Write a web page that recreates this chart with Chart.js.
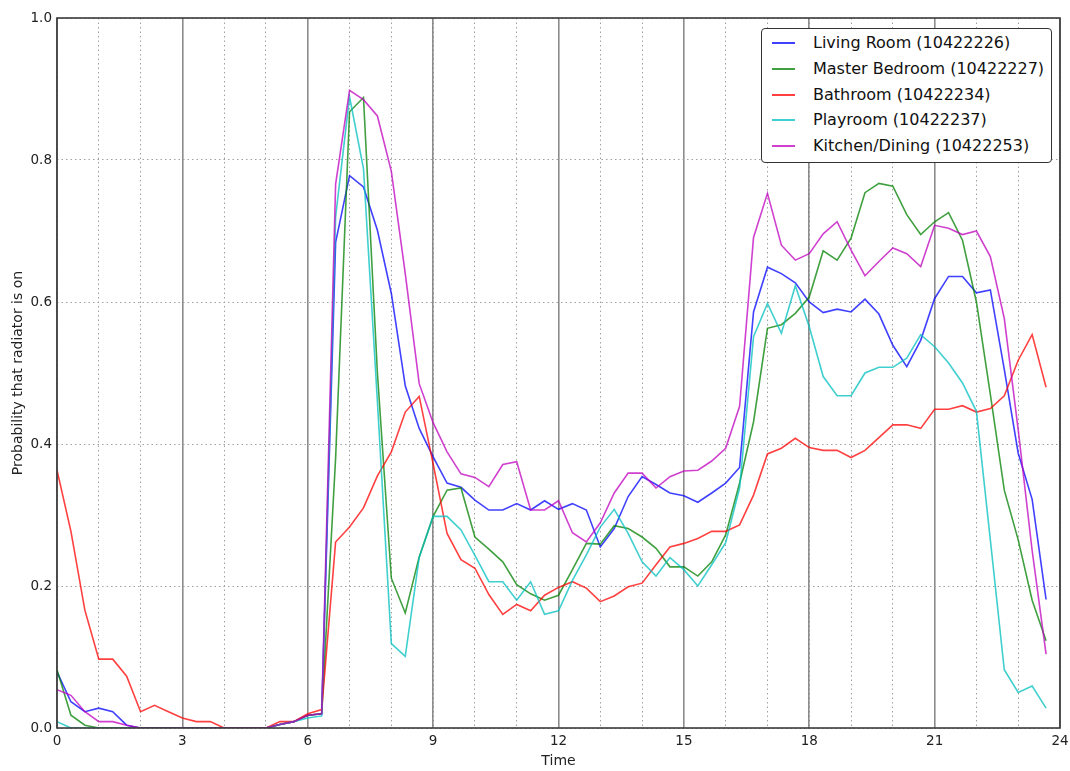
<!DOCTYPE html>
<html>
<head>
<meta charset="utf-8">
<script src="https://cdn.jsdelivr.net/npm/chart.js@4"></script>
<style>
  html, body { margin:0; padding:0; background:#fff; }
  #wrap { position:relative; width:1070px; height:771px; }
  #legend {
    position:absolute; left:761px; top:28px; width:291px; height:135px;
    box-sizing:border-box; border:1.5px solid #333; border-radius:4px; background:#fff;
    padding-top:1px; font-family:'DejaVu Sans', sans-serif; font-size:16px; color:#111;
  }
  #legend .row { position:relative; height:25.8px; line-height:25.8px; }
  #legend .swatch { position:absolute; left:10px; top:12px; width:23px; height:2px; }
  #legend .label { position:absolute; left:51px; top:0; white-space:nowrap; }
</style>
</head>
<body>
<div id="wrap">
  <canvas id="chart" width="1070" height="771"></canvas>
  <div id="legend"></div>
</div>
<script>
'use strict';

// sampled every 20 minutes, 0:00 .. 23:40
const stepHours = 1 / 3;

const seriesNames = [
  'Living Room (10422226)',
  'Master Bedroom (10422227)',
  'Bathroom (10422234)',
  'Playroom (10422237)',
  'Kitchen/Dining (10422253)',
];
const seriesColors = [
  'rgba(0,0,255,0.75)',
  'rgba(0,128,0,0.75)',
  'rgba(255,0,0,0.75)',
  'rgba(0,191,191,0.75)',
  'rgba(191,0,191,0.75)',
];

const livingRoom = [
  0.079, 0.037, 0.023, 0.028, 0.023, 0.004, 0, 0, 0, 0, 0, 0,
  0, 0, 0, 0, 0.005, 0.009, 0.018, 0.020, 0.684, 0.778, 0.762, 0.701,
  0.612, 0.482, 0.422, 0.382, 0.345, 0.339, 0.321, 0.307, 0.307, 0.316, 0.307, 0.320,
  0.308, 0.316, 0.307, 0.255, 0.281, 0.326, 0.354, 0.343, 0.331, 0.327, 0.318, 0.331,
  0.345, 0.367, 0.586, 0.649, 0.640, 0.627, 0.600, 0.585, 0.590, 0.586, 0.604, 0.583,
  0.539, 0.509, 0.546, 0.605, 0.636, 0.636, 0.613, 0.617, 0.505, 0.387, 0.322, 0.181,
];
const masterBedroom = [
  0.082, 0.018, 0.004, 0, 0, 0, 0, 0, 0, 0, 0, 0,
  0, 0, 0, 0, 0.005, 0.009, 0.018, 0.020, 0.380, 0.868, 0.888, 0.500,
  0.211, 0.162, 0.241, 0.298, 0.335, 0.338, 0.269, 0.252, 0.234, 0.202, 0.189, 0.180,
  0.187, 0.223, 0.260, 0.259, 0.285, 0.281, 0.269, 0.253, 0.227, 0.227, 0.214, 0.234,
  0.272, 0.345, 0.431, 0.563, 0.568, 0.584, 0.607, 0.672, 0.659, 0.690, 0.754, 0.767,
  0.763, 0.723, 0.695, 0.713, 0.726, 0.687, 0.600, 0.470, 0.335, 0.265, 0.180, 0.123,
];
const bathroom = [
  0.363, 0.277, 0.166, 0.097, 0.097, 0.073, 0.023, 0.032, 0.023, 0.014, 0.009, 0.009,
  0, 0, 0, 0, 0.009, 0.009, 0.020, 0.026, 0.262, 0.283, 0.310, 0.355,
  0.389, 0.445, 0.467, 0.372, 0.274, 0.237, 0.225, 0.188, 0.160, 0.174, 0.165, 0.187,
  0.198, 0.206, 0.197, 0.178, 0.186, 0.199, 0.204, 0.230, 0.255, 0.260, 0.267, 0.277,
  0.277, 0.286, 0.328, 0.386, 0.394, 0.408, 0.395, 0.391, 0.391, 0.381, 0.391, 0.409,
  0.427, 0.427, 0.422, 0.449, 0.449, 0.454, 0.445, 0.450, 0.468, 0.518, 0.554, 0.480,
];
const playroom = [
  0.009, 0, 0, 0, 0, 0, 0, 0, 0, 0, 0, 0,
  0, 0, 0, 0, 0.005, 0.009, 0.014, 0.017, 0.720, 0.889, 0.788, 0.460,
  0.119, 0.101, 0.240, 0.298, 0.298, 0.279, 0.243, 0.206, 0.206, 0.180, 0.206, 0.160,
  0.165, 0.208, 0.244, 0.283, 0.308, 0.274, 0.234, 0.214, 0.240, 0.223, 0.200, 0.230,
  0.261, 0.338, 0.551, 0.598, 0.556, 0.623, 0.565, 0.495, 0.468, 0.468, 0.500, 0.508,
  0.508, 0.521, 0.554, 0.537, 0.514, 0.486, 0.446, 0.265, 0.082, 0.050, 0.059, 0.028,
];
const kitchenDining = [
  0.054, 0.046, 0.023, 0.009, 0.009, 0.004, 0, 0, 0, 0, 0, 0,
  0, 0, 0, 0, 0.005, 0.009, 0.018, 0.020, 0.766, 0.898, 0.885, 0.862,
  0.784, 0.640, 0.485, 0.430, 0.389, 0.358, 0.353, 0.340, 0.371, 0.375, 0.307, 0.307,
  0.320, 0.275, 0.262, 0.289, 0.331, 0.359, 0.359, 0.338, 0.354, 0.362, 0.363, 0.376,
  0.394, 0.453, 0.691, 0.753, 0.680, 0.659, 0.668, 0.696, 0.713, 0.673, 0.637, 0.657,
  0.676, 0.668, 0.650, 0.708, 0.704, 0.695, 0.700, 0.664, 0.577, 0.420, 0.250, 0.104,
];

const xTicks = [0, 3, 6, 9, 12, 15, 18, 21, 24];
const yTicks = [0.0, 0.2, 0.4, 0.6, 0.8, 1.0];

const allSeries = [livingRoom, masterBedroom, bathroom, playroom, kitchenDining];
const FONT = "'DejaVu Sans', sans-serif";

// matplotlib-style box round the axes
const framePlugin = {
  id: 'frame',
  afterDraw(chart) {
    const { ctx, chartArea: a } = chart;
    ctx.save();
    ctx.strokeStyle = '#3a3a3a';
    ctx.lineWidth = 1.6;
    ctx.strokeRect(a.left, a.top, a.right - a.left, a.bottom - a.top);
    ctx.restore();
  }
};

const datasets = allSeries.map((vals, k) => ({
  label: seriesNames[k],
  data: vals.map((v, i) => ({ x: i * stepHours, y: v })),
  borderColor: seriesColors[k],
  borderWidth: 1.6,
  pointRadius: 0,
  fill: false,
  tension: 0,
  order: allSeries.length - k,   // last series drawn on top, like pyplot
}));

new Chart(document.getElementById('chart').getContext('2d'), {
  type: 'line',
  data: { datasets },
  options: {
    responsive: false,
    animation: false,
    devicePixelRatio: 1,
    layout: { padding: { top: 18, right: 10, left: 0, bottom: 0 } },
    plugins: { legend: { display: false }, tooltip: { enabled: false } },
    scales: {
      x: {
        type: 'linear', position: 'bottom', min: 0, max: 24,
        // fixed height, and don't let the "24" label push the axes in
        afterFit: s => { s.height = 43; s.paddingRight = 2; s.paddingLeft = 0; },
        ticks: {
          stepSize: 1, autoSkip: false, maxRotation: 0, padding: 5,
          color: '#222', font: { family: FONT, size: 13.5 },
          callback: v => xTicks.includes(v) ? String(v) : '',
        },
        grid: { color: '#a0a0a0', lineWidth: 1, drawTicks: false },
        border: { display: false, dash: [1.5, 3] },
        title: { display: true, text: 'Time', color: '#222', font: { family: FONT, size: 14 }, padding: { top: 0, bottom: 1 } },
      },
      xMajor: {
        type: 'linear', position: 'top', min: 0, max: 24,
        afterFit: s => { s.height = 0; s.paddingRight = 0; s.paddingLeft = 0; },
        ticks: { display: false, stepSize: 3 },
        grid: { color: '#8c8c8c', lineWidth: 1.6, drawTicks: false },
        border: { display: false },
      },
      y: {
        min: 0, max: 1,
        afterFit: s => { s.width = 57; },
        ticks: {
          stepSize: 0.2, padding: 5,
          color: '#222', font: { family: FONT, size: 13.5 },
          callback: v => {
            const t = yTicks.find(y => Math.abs(y - v) < 1e-6);
            return t === undefined ? '' : t.toFixed(1);
          },
        },
        grid: { color: '#a0a0a0', lineWidth: 1, drawTicks: false },
        border: { display: false, dash: [1.5, 3] },
        title: { display: true, text: 'Probability that radiator is on', color: '#222', font: { family: FONT, size: 14 }, padding: { top: 10, bottom: 0 } },
      },
    },
  },
  plugins: [framePlugin],
});

// legend box, top right inside the axes
const legendEl = document.getElementById('legend');
legendEl.innerHTML = seriesNames.map((name, k) =>
  `<div class="row"><span class="swatch" style="background:${seriesColors[k]}"></span><span class="label">${name}</span></div>`
).join('');
</script>
</body>
</html>
